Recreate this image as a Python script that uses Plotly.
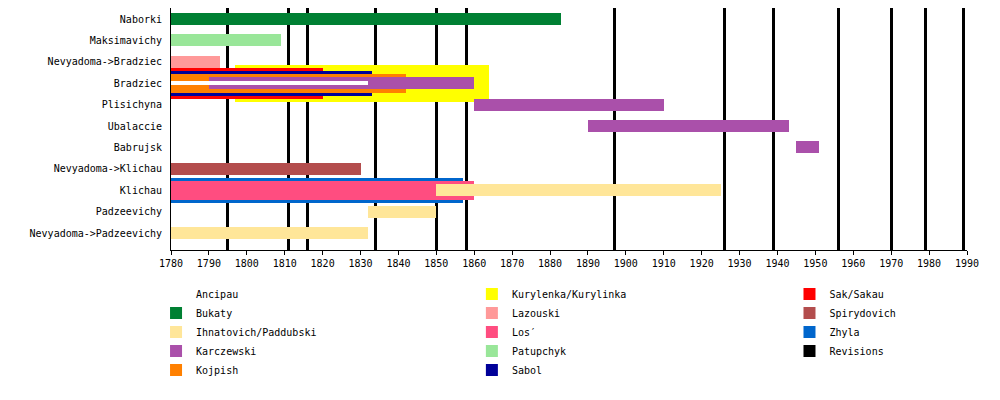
import plotly.graph_objects as go

# rows of the timeline, top to bottom
rows = ["Naborki", "Maksimavichy", "Nevyadoma->Bradziec", "Bradziec", "Plisichyna",
        "Ubalaccie", "Babrujsk", "Nevyadoma->Klichau", "Klichau", "Padzeevichy",
        "Nevyadoma->Padzeevichy"]

# periods per family: row, start year, end year
ancipau_rows = ["Bradziec"]
ancipau_from = [1780]
ancipau_to = [1832]

bukaty_rows = ["Naborki"]
bukaty_from = [1780]
bukaty_to = [1883]

ihnatovich_rows = ["Klichau", "Padzeevichy", "Nevyadoma->Padzeevichy"]
ihnatovich_from = [1850, 1832, 1780]
ihnatovich_to = [1925, 1850, 1832]

karczewski_rows = ["Bradziec", "Plisichyna", "Ubalaccie", "Babrujsk"]
karczewski_from = [1790, 1860, 1890, 1945]
karczewski_to = [1860, 1910, 1943, 1951]

kojpish_rows = ["Bradziec"]
kojpish_from = [1780]
kojpish_to = [1842]

kurylenka_rows = ["Bradziec"]
kurylenka_from = [1797]
kurylenka_to = [1864]

lazouski_rows = ["Nevyadoma->Bradziec"]
lazouski_from = [1780]
lazouski_to = [1793]

los_rows = ["Klichau"]
los_from = [1780]
los_to = [1860]

patupchyk_rows = ["Maksimavichy"]
patupchyk_from = [1780]
patupchyk_to = [1809]

sabol_rows = ["Bradziec"]
sabol_from = [1780]
sabol_to = [1833]

sak_rows = ["Bradziec"]
sak_from = [1780]
sak_to = [1820]

spirydovich_rows = ["Nevyadoma->Klichau"]
spirydovich_from = [1780]
spirydovich_to = [1830]

zhyla_rows = ["Klichau"]
zhyla_from = [1780]
zhyla_to = [1857]

revisions = [1795, 1811, 1816, 1834, 1850, 1858, 1897, 1926, 1939, 1956, 1970, 1979, 1989]

year_ticks = list(range(1780, 1991, 10))

# draw order (later = on top), legend column, rank, colour, bar thickness (rows)
families = [
    ("Kurylenka/Kurylinka", kurylenka_rows, kurylenka_from, kurylenka_to, "legend2", 1, "#FFFF00", 1.73),
    ("Sak/Sakau", sak_rows, sak_from, sak_to, "legend3", 1, "#FF0000", 1.45),
    ("Sabol", sabol_rows, sabol_from, sabol_to, "legend2", 5, "#000099", 1.17),
    ("Kojpish", kojpish_rows, kojpish_from, kojpish_to, "legend", 5, "#FF8000", 0.89),
    ("Karczewski", karczewski_rows, karczewski_from, karczewski_to, "legend", 4, "#AA50AA", 0.56),
    ("Ancipau", ancipau_rows, ancipau_from, ancipau_to, "legend", 1, "#FFFFFF", 0.19),
    ("Zhyla", zhyla_rows, zhyla_from, zhyla_to, "legend3", 3, "#0066CC", 1.17),
    ("Los\u2032", los_rows, los_from, los_to, "legend2", 3, "#FF4D80", 0.89),
    ("Ihnatovich/Paddubski", ihnatovich_rows, ihnatovich_from, ihnatovich_to, "legend", 3, "#FFE699", 0.56),
    ("Bukaty", bukaty_rows, bukaty_from, bukaty_to, "legend", 2, "#008033", 0.56),
    ("Lazouski", lazouski_rows, lazouski_from, lazouski_to, "legend2", 2, "#FF9999", 0.56),
    ("Patupchyk", patupchyk_rows, patupchyk_from, patupchyk_to, "legend2", 4, "#99E699", 0.56),
    ("Spirydovich", spirydovich_rows, spirydovich_from, spirydovich_to, "legend3", 2, "#B34D4D", 0.56),
]

# the page has an 8px body margin, so the figure is a bit smaller than the window
y_top = -0.514
y_bottom = 10.79

fig = go.Figure()

# revision lines behind the bars
fig.add_trace(go.Bar(
    x=revisions, y=[y_bottom - y_top] * len(revisions), base=y_top,
    width=0.8, orientation="v", marker=dict(color="black", line_width=0),
    name="Revisions", legend="legend3", legendrank=4, hoverinfo="skip",
))

for name, r, start, end, leg, rank, color, thick in families:
    fig.add_trace(go.Bar(
        y=[rows.index(v) for v in r],
        x=[e - s for s, e in zip(start, end)],
        base=start,
        width=thick,
        orientation="h",
        marker=dict(color=color, line_width=0),
        name=name, legend=leg, legendrank=rank,
    ))

mono = "DejaVu Sans Mono"
leg_style = dict(font=dict(family=mono, size=10, color="black"), yanchor="top",
                 xanchor="left", bgcolor="rgba(0,0,0,0)", traceorder="normal")

fig.update_layout(
    width=992, height=392,
    margin=dict(l=163, r=33, t=0, b=150),
    paper_bgcolor="white", plot_bgcolor="white",
    barmode="overlay", bargap=0,
    font=dict(family=mono, size=10, color="black"),
    xaxis=dict(range=[1780, 1990], tickvals=year_ticks, ticks="outside", ticklen=4,
               tickcolor="black", showline=True, linecolor="black", linewidth=1,
               showgrid=False, zeroline=False, tickfont=dict(family=mono, size=10)),
    yaxis=dict(range=[y_bottom, y_top], tickvals=list(range(len(rows))), ticktext=rows,
               ticks="", showline=True, linecolor="black", linewidth=1,
               showgrid=False, zeroline=False, ticklabelstandoff=6,
               tickfont=dict(family=mono, size=10)),
    legend=dict(x=-0.0188, y=-0.122, **leg_style),
    legend2=dict(x=0.378, y=-0.122, **leg_style),
    legend3=dict(x=0.777, y=-0.122, **leg_style),
)

fig.write_html("out.html")
